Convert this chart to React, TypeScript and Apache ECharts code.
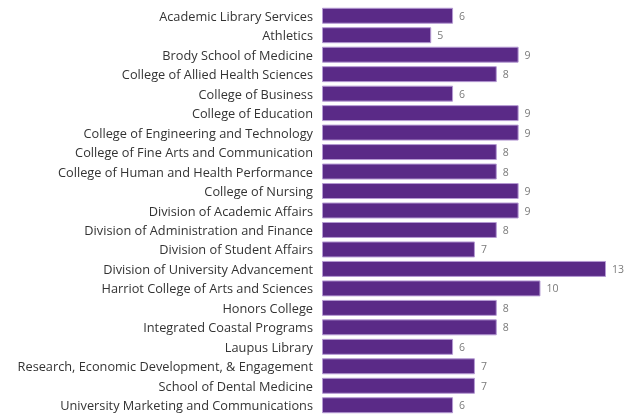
import React, { useEffect, useRef } from "react";
import * as echarts from "echarts";

const categories = [
  "Academic Library Services",
  "Athletics",
  "Brody School of Medicine",
  "College of Allied Health Sciences",
  "College of Business",
  "College of Education",
  "College of Engineering and Technology",
  "College of Fine Arts and Communication",
  "College of Human and Health Performance",
  "College of Nursing",
  "Division of Academic Affairs",
  "Division of Administration and Finance",
  "Division of Student Affairs",
  "Division of University Advancement",
  "Harriot College of Arts and Sciences",
  "Honors College",
  "Integrated Coastal Programs",
  "Laupus Library",
  "Research, Economic Development, & Engagement",
  "School of Dental Medicine",
  "University Marketing and Communications",
];

const values = [6, 5, 9, 8, 6, 9, 9, 8, 8, 9, 9, 8, 7, 13, 10, 8, 8, 6, 7, 7, 6];

export default function App() {
  const ref = useRef<HTMLDivElement>(null);
  useEffect(() => {
    if (!ref.current) return;
    const chart = echarts.init(ref.current, null, { renderer: "svg" });
    chart.setOption({
      animation: false,
      grid: { left: 322, right: 20, top: 6, bottom: -1, containLabel: false },
      xAxis: {
        type: "value",
        min: 0,
        max: 13,
        show: false,
      },
      yAxis: {
        type: "category",
        data: categories,
        inverse: true,
        axisLine: { show: false },
        axisTick: { show: false },
        axisLabel: {
          color: "#333333",
          fontSize: 12.75,
          fontFamily: "Open Sans",
          margin: 9,
        },
      },
      series: [
        {
          type: "bar",
          data: values,
          barCategoryGap: "18%",
          itemStyle: { color: "#5a2a87", borderColor: "#b59ad3", borderWidth: 1 },
          label: {
            show: true,
            position: "right",
            distance: 6,
            color: "#7a7a7a",
            fontSize: 10.5,
            fontFamily: "Open Sans",
          },
        },
      ],
    });
    return () => chart.dispose();
  }, []);
  return (
    <div
      ref={ref}
      style={{ position: "fixed", left: 0, top: 0, width: 626, height: 415 }}
    />
  );
}
